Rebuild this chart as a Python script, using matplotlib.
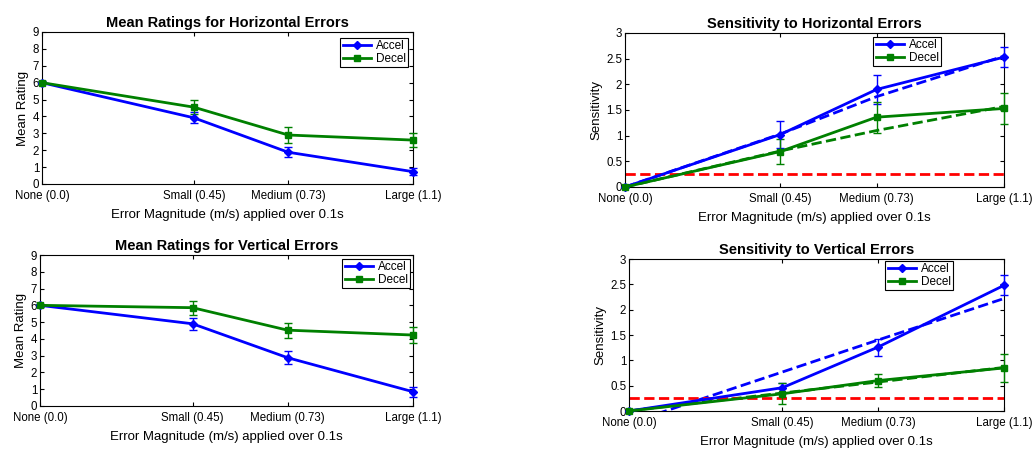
import matplotlib
matplotlib.use('Agg')
import matplotlib.pyplot as plt
from matplotlib.lines import Line2D

plt.rcParams['font.family'] = ['Liberation Sans', 'DejaVu Sans']

# x positions = error magnitude in m/s
mag = [0.0, 0.45, 0.73, 1.1]
mag_labels = ['None (0.0)', 'Small (0.45)', 'Medium (0.73)', 'Large (1.1)']

# mean ratings
rate_h_accel = [6.0, 3.92, 1.88, 0.73]
rate_h_accel_err = [0.1, 0.33, 0.3, 0.2]
rate_h_decel = [6.0, 4.55, 2.9, 2.6]
rate_h_decel_err = [0.1, 0.43, 0.45, 0.4]

rate_v_accel = [6.0, 4.9, 2.88, 0.85]
rate_v_accel_err = [0.1, 0.37, 0.4, 0.3]
rate_v_decel = [6.0, 5.86, 4.52, 4.23]
rate_v_decel_err = [0.1, 0.42, 0.45, 0.45]

# sensitivity
sens_h_accel = [0.0, 1.02, 1.9, 2.53]
sens_h_accel_err = [0.0, 0.26, 0.28, 0.2]
sens_h_decel = [0.0, 0.69, 1.36, 1.53]
sens_h_decel_err = [0.0, 0.25, 0.3, 0.31]
fit_h_accel = [0.0, 1.03, 1.76, 2.55]
fit_h_decel = [0.0, 0.7, 1.1, 1.57]

sens_v_accel = [0.0, 0.46, 1.26, 2.48]
sens_v_accel_err = [0.0, 0.1, 0.17, 0.2]
sens_v_decel = [0.0, 0.34, 0.6, 0.85]
sens_v_decel_err = [0.0, 0.21, 0.13, 0.28]
fit_v_accel = [-0.24, 0.77, 1.4, 2.22]
fit_v_decel = [0.005, 0.355, 0.572, 0.86]

threshold = 0.25

BLUE = '#0000ff'
GREEN = '#008000'
W, H = 1034, 451

fig = plt.figure(figsize=(W / 100, H / 100), dpi=100)


def px_axes(x0, y0, x1, y1):
    return fig.add_axes([x0 / W, 1 - y1 / H, (x1 - x0) / W, (y1 - y0) / H])


def style(ax, title, ylabel, ylim, yticks, ylabels):
    ax.set_xlim(0, 1.1)
    ax.set_ylim(*ylim)
    ax.set_xticks(mag)
    ax.set_xticklabels(mag_labels, fontsize=8.3)
    ax.set_yticks(yticks)
    ax.set_yticklabels(ylabels, fontsize=8.3)
    ax.tick_params(direction='in', length=3, top=True, right=True)
    ax.tick_params(axis='x', pad=4.5)
    ax.tick_params(axis='y', pad=2)
    ax.set_title(title, fontsize=10.5, fontweight='bold', pad=3.5)
    ax.set_ylabel(ylabel, fontsize=9.5, labelpad=3)
    ax.set_xlabel('Error Magnitude (m/s) applied over 0.1s', fontsize=9.5, labelpad=5)
    for s in ax.spines.values():
        s.set_linewidth(0.8)


def draw_pair(ax, a, ae, d, de):
    ax.errorbar(mag, a, yerr=ae, color=BLUE, marker='D', ms=4.5, lw=2,
                capsize=3, elinewidth=1, clip_on=False, zorder=3)
    ax.errorbar(mag, d, yerr=de, color=GREEN, marker='s', ms=4.5, lw=2,
                capsize=3, elinewidth=1, clip_on=False, zorder=3)


def legend(ax, x0, y0, x1, y1):
    # place legend box by its top-right pixel corner
    pos = ax.get_position()
    bx = (x1 / W - pos.x0) / pos.width
    by = ((1 - y0 / H) - pos.y0) / pos.height
    handles = [Line2D([], [], color=BLUE, marker='D', ms=4.5, lw=2),
               Line2D([], [], color=GREEN, marker='s', ms=4.5, lw=2)]
    leg = ax.legend(handles, ['Accel', 'Decel'], loc='upper right',
                    bbox_to_anchor=(bx, by), fontsize=8.5,
                    fancybox=False, framealpha=1, edgecolor='black',
                    borderpad=0.2, labelspacing=0.05, handlelength=2.4,
                    handletextpad=0.4, borderaxespad=0)
    leg.get_frame().set_linewidth(0.8)


rate_ticks = list(range(10))
rate_labels = [str(t) for t in rate_ticks]
sens_ticks = [0, 0.5, 1, 1.5, 2, 2.5, 3]
sens_labels = ['0', '0.5', '1', '1.5', '2', '2.5', '3']

# top left
ax1 = px_axes(42, 32, 413, 184)
draw_pair(ax1, rate_h_accel, rate_h_accel_err, rate_h_decel, rate_h_decel_err)
style(ax1, 'Mean Ratings for Horizontal Errors', 'Mean Rating', (0, 9), rate_ticks, rate_labels)
legend(ax1, 335, 38, 408, 70)

# bottom left
ax3 = px_axes(40, 255, 413, 406)
draw_pair(ax3, rate_v_accel, rate_v_accel_err, rate_v_decel, rate_v_decel_err)
style(ax3, 'Mean Ratings for Vertical Errors', 'Mean Rating', (0, 9), rate_ticks, rate_labels)
legend(ax3, 339, 259, 410, 288)

# top right
ax2 = px_axes(625, 33, 1004, 187)
draw_pair(ax2, sens_h_accel, sens_h_accel_err, sens_h_decel, sens_h_decel_err)
ax2.plot(mag, fit_h_accel, '--', color=BLUE, lw=2)
ax2.plot(mag, fit_h_decel, '--', color=GREEN, lw=2)
ax2.plot([0, 1.1], [threshold, threshold], '--', color='red', lw=2)
style(ax2, 'Sensitivity to Horizontal Errors', 'Sensitivity', (0, 3), sens_ticks, sens_labels)
legend(ax2, 877, 37, 941, 65)

# bottom right
ax4 = px_axes(629, 259, 1004, 411)
draw_pair(ax4, sens_v_accel, sens_v_accel_err, sens_v_decel, sens_v_decel_err)
ax4.plot(mag, fit_v_accel, '--', color=BLUE, lw=2)
ax4.plot(mag, fit_v_decel, '--', color=GREEN, lw=2)
ax4.plot([0, 1.1], [threshold, threshold], '--', color='red', lw=2)
style(ax4, 'Sensitivity to Vertical Errors', 'Sensitivity', (0, 3), sens_ticks, sens_labels)
legend(ax4, 892, 261, 953, 290)

fig.savefig('out.png', dpi=100)
